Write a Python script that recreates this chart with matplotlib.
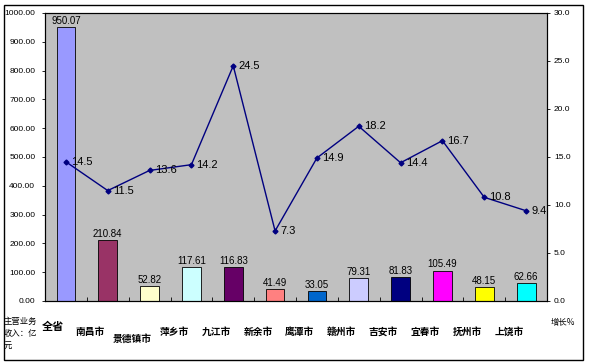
import matplotlib
matplotlib.use("Agg")
import matplotlib.pyplot as plt
import numpy as np

plt.rcParams['font.family'] = ['Noto Sans CJK SC', 'DejaVu Sans']
num_font = "Liberation Sans"

# data
cities = ["全省", "南昌市", "景德镇市", "萍乡市", "九江市", "新余市",
          "鹰潭市", "赣州市", "吉安市", "宜春市", "抚州市", "上饶市"]
revenue = [950.07, 210.84, 52.82, 117.61, 116.83, 41.49,
           33.05, 79.31, 81.83, 105.49, 48.15, 62.66]
growth = [14.5, 11.5, 13.6, 14.2, 24.5, 7.3,
          14.9, 18.2, 14.4, 16.7, 10.8, 9.4]
bar_colors = ["#9999ff", "#993366", "#ffffcc", "#ccffff", "#660066", "#ff8080",
              "#0066cc", "#ccccff", "#000080", "#ff00ff", "#ffff00", "#00ffff"]
label_drop = [0.087, 0.108, 0.132, 0.108, 0.108, 0.108,
              0.108, 0.108, 0.108, 0.108, 0.108, 0.108]
label_shift = [-0.3] + [-0.41] * 11

fig = plt.figure(figsize=(5.89, 3.64), dpi=100)
fig.patches.append(plt.Rectangle((0.007, 0.012), 0.983, 0.975, transform=fig.transFigure,
                                 fill=False, edgecolor="black", linewidth=1.0))
ax = fig.add_axes([0.0764, 0.1731, 0.8523, 0.7912])
ax.set_facecolor("#c0c0c0")

x = np.arange(len(cities))
ax.bar(x, revenue, width=0.45, color=bar_colors, edgecolor="black", linewidth=0.6, zorder=2)
for xi, v in zip(x, revenue):
    ax.text(xi, v + 4, f"{v:.2f}", ha="center", va="bottom", fontsize=7, family=num_font)

ax.set_xlim(-0.5, len(cities) - 0.5)
ax.set_ylim(0, 1000)
ax.set_yticks(np.arange(0, 1001, 100))
ax.set_yticklabels([f"{v:.2f}" for v in np.arange(0, 1001, 100)], fontsize=6, family=num_font)
ax.set_xticks(np.arange(-0.5, len(cities), 1))
ax.set_xticklabels([])
ax.tick_params(axis="x", direction="in", length=3, width=0.6)
ax.tick_params(axis="y", direction="out", length=2, width=0.6, pad=5)
for s in ax.spines.values():
    s.set_linewidth(0.8)

for xi, name, d, sh in zip(x, cities, label_drop, label_shift):
    ax.text(xi + sh, -d, name, transform=ax.get_xaxis_transform(), ha="center", va="center",
            fontsize=8 if name == "全省" else 7, fontweight="bold")
ax.text(-0.082, -0.055, "主营业务\n收入：亿\n元", transform=ax.transAxes, ha="left", va="top",
        fontsize=6, linespacing=1.4)

ax2 = ax.twinx()
ax2.plot(x, growth, color="#000080", linewidth=1.0, marker="D", markersize=2.5, zorder=3)
for xi, g in zip(x, growth):
    ax2.text(xi + 0.12, g, f"{g:.1f}", ha="left", va="center", fontsize=8, family=num_font)
ax2.set_ylim(0, 30)
ax2.set_yticks(np.arange(0, 31, 5))
ax2.set_yticklabels([f"{v:.1f}" for v in np.arange(0, 31, 5)], fontsize=6, family=num_font)
ax2.tick_params(axis="y", direction="out", length=2, width=0.6, pad=3)
ax2.text(1.008, -0.076, "增长%", transform=ax2.transAxes, ha="left", va="center", fontsize=6)

fig.savefig("out.png", dpi=100)
